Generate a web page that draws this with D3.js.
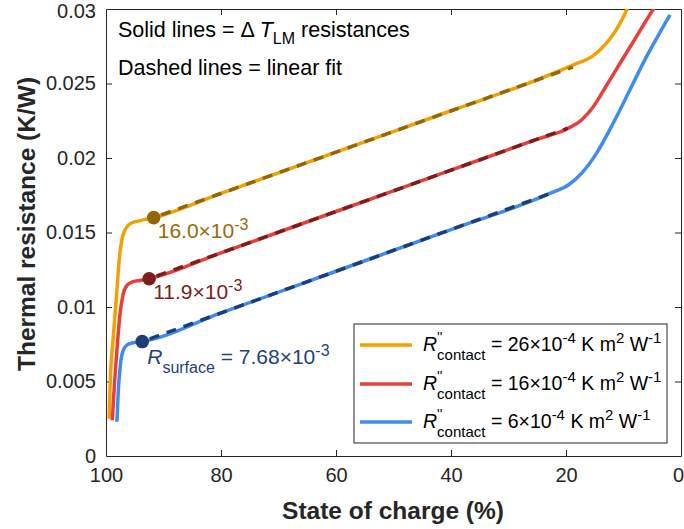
<!DOCTYPE html>
<html>
<head>
<meta charset="utf-8">
<script src="https://cdn.jsdelivr.net/npm/d3@7"></script>
<style>
  html, body { margin: 0; padding: 0; background: #fff; }
  svg { display: block; }
  text { font-family: "Liberation Sans", Arial, Helvetica, sans-serif; }
</style>
</head>
<body>
<svg id="chart" width="684" height="529"></svg>
<script>
// Thermal resistance vs state of charge for three contact resistances
// Each curve: [state of charge (%), resistance (K/W)]
const curveHigh = [
  [99.45, 0.0025], [99.3, 0.0046], [98.75, 0.0079], [98.2, 0.0106], [97.7, 0.0132],
  [97.2, 0.0146], [96.5, 0.0153], [95.5, 0.01565], [94.0, 0.0158], [91.7, 0.0160],
  [80, 0.01762], [60, 0.02039], [40, 0.02317], [25, 0.02525], [18.1, 0.02635],
  [15.5, 0.0268], [14.1, 0.02725], [12.35, 0.0280], [10.6, 0.02904], [9.16, 0.03016], [8.5, 0.0307]
];
const curveMid = [
  [98.9, 0.0024], [98.6, 0.0044], [98.1, 0.0071], [97.6, 0.0094], [97.05, 0.0108],
  [96.35, 0.01145], [95.3, 0.0117], [94.1, 0.01178], [92.5, 0.0119],
  [80, 0.01363], [60, 0.01641], [40, 0.01918], [25, 0.02126], [19.6, 0.0220],
  [17.3, 0.02255], [15.25, 0.02344], [12.9, 0.0249], [10.6, 0.02636], [8.3, 0.0278],
  [6.0, 0.02926], [4.8, 0.0300], [4.3, 0.0303]
];
const curveLow = [
  [98.1, 0.0023], [97.86, 0.0044], [97.5, 0.0061], [97.0, 0.0071], [96.35, 0.00745],
  [95.3, 0.0076], [93.7, 0.00768], [80, 0.0096], [60, 0.0124], [40, 0.0152],
  [22.5, 0.01767], [19.6, 0.01819], [17.3, 0.01897], [14.7, 0.02031], [11.8, 0.02233],
  [8.9, 0.02456], [6.0, 0.0268], [3.7, 0.0284], [1.9, 0.0296]
];

// Linear fits: start and end of the fitted region
const fitHigh = [[91.7, 0.0160], [18.8, 0.0261]];
const fitMid = [[92.5, 0.0119], [19.7, 0.0220]];
const fitLow = [[93.7, 0.00768], [22.5, 0.01765]];

// Marked surface resistance points
const markers = [
  { soc: 91.7, r: 0.0160, mant: "16.0", exp: "-3" },
  { soc: 92.5, r: 0.0119, mant: "11.9", exp: "-3" },
  { soc: 93.7, r: 0.00768, mant: "7.68", exp: "-3" }
];

const legendLabels = ["26", "16", "6"];
const xTicks = [100, 80, 60, 40, 20, 0];
const yTicks = [0, 0.005, 0.01, 0.015, 0.02, 0.025, 0.03];
const yTickLabels = ["0", "0.005", "0.01", "0.015", "0.02", "0.025", "0.03"];

const lineColors = ["#F2A100", "#E5413A", "#3F8CEF"];
const darkColors = ["#94660A", "#7A1F1F", "#1C3D75"];
const labelColors = ["#9A6A08", "#7A2222", "#1F3F80"];

const svg = d3.select("#chart");
const plotLeft = 106, plotRight = 681, plotTop = 9, plotBottom = 456;
const axisColor = "#262626";

const x = d3.scaleLinear().domain([100, 0]).range([plotLeft, plotRight]);
const y = d3.scaleLinear().domain([0, 0.03]).range([plotBottom, plotTop]);

svg.append("defs").append("clipPath").attr("id", "plotclip")
  .append("rect").attr("x", plotLeft).attr("y", plotTop)
  .attr("width", plotRight - plotLeft).attr("height", plotBottom - plotTop);

// Axes with inward ticks on all four sides
const tickLen = 6;
const gx = svg.append("g").attr("transform", `translate(0,${plotBottom})`)
  .call(d3.axisBottom(x).tickValues(xTicks).tickSizeInner(-tickLen).tickSizeOuter(0).tickPadding(12).tickFormat(d3.format("d")));
const gxTop = svg.append("g").attr("transform", `translate(0,${plotTop})`)
  .call(d3.axisTop(x).tickValues(xTicks).tickSizeInner(-tickLen).tickSizeOuter(0).tickFormat(""));
const gy = svg.append("g").attr("transform", `translate(${plotLeft},0)`)
  .call(d3.axisLeft(y).tickValues(yTicks).tickSizeInner(-tickLen).tickSizeOuter(0).tickPadding(10)
    .tickFormat((d, i) => yTickLabels[i]));
const gyRight = svg.append("g").attr("transform", `translate(${plotRight},0)`)
  .call(d3.axisRight(y).tickValues(yTicks).tickSizeInner(-tickLen).tickSizeOuter(0).tickFormat(""));

[gx, gxTop, gy, gyRight].forEach(g => {
  g.select(".domain").attr("stroke", axisColor).attr("stroke-width", 1);
  g.selectAll(".tick line").attr("stroke", axisColor).attr("stroke-width", 1);
  g.selectAll(".tick text").attr("fill", "#262626").attr("font-size", 20)
    .attr("font-family", '"Liberation Sans", Arial, sans-serif');
});
// keep the last x label inside the page
gx.selectAll(".tick text").filter(d => d === 0).attr("dx", -3);
gy.selectAll(".tick text").filter(d => d === 0.03).attr("dy", "0.42em");
// no tick marks on the box corners
gx.selectAll(".tick line").filter(d => d === 100 || d === 0).remove();
gxTop.selectAll(".tick line").filter(d => d === 100 || d === 0).remove();
gy.selectAll(".tick line").filter(d => d === 0 || d === 0.03).remove();
gyRight.selectAll(".tick line").filter(d => d === 0 || d === 0.03).remove();

// Axis titles
svg.append("text").attr("x", 393).attr("y", 519).attr("text-anchor", "middle")
  .attr("font-size", 24.5).attr("font-weight", "bold").attr("fill", "#262626").text("State of charge (%)");
svg.append("text").attr("transform", "translate(35,224) rotate(-90)").attr("text-anchor", "middle")
  .attr("font-size", 24.5).attr("font-weight", "bold").attr("fill", "#262626").text("Thermal resistance (K/W)");

// Curves
const line = d3.line().x(d => x(d[0])).y(d => y(d[1])).curve(d3.curveMonotoneX);
const plot = svg.append("g").attr("clip-path", "url(#plotclip)");
const curves = [curveHigh, curveMid, curveLow];
const fits = [fitHigh, fitMid, fitLow];

curves.forEach((c, i) => {
  plot.append("path").datum(c).attr("d", line).attr("fill", "none")
    .attr("stroke", lineColors[i]).attr("stroke-width", 3.5).attr("stroke-linejoin", "round");
});
fits.forEach((f, i) => {
  plot.append("path").datum(f).attr("d", d3.line().x(d => x(d[0])).y(d => y(d[1])))
    .attr("fill", "none").attr("stroke", darkColors[i]).attr("stroke-width", 3.5)
    .attr("stroke-dasharray", "10,8").attr("stroke-dashoffset", -8);
});

// Rich text helper: lays out segments left to right
function rich(g, x0, y0, segs, color, baseSize) {
  let cx = x0;
  segs.forEach(s => {
    const size = s.size || baseSize;
    const t = g.append("text").attr("x", cx).attr("y", y0 + (s.dy || 0))
      .attr("font-size", size).attr("fill", color)
      .attr("font-style", s.italic ? "italic" : "normal")
      .style("white-space", "pre").text(s.t);
    if (!s.stack) cx += t.node().getComputedTextLength();
  });
  return cx;
}

// Marker points and labels
markers.forEach((m, i) => {
  const px = x(m.soc), py = y(m.r);
  svg.append("circle").attr("cx", px).attr("cy", py).attr("r", 6.8).attr("fill", darkColors[i]);
  const g = svg.append("g");
  if (i < 2) {
    rich(g, px + 4, py + 20, [
      { t: m.mant + "×10" },
      { t: m.exp, size: 16, dy: -8 }
    ], labelColors[i], 21);
  } else {
    rich(g, px + 5, py + 22, [
      { t: "R", italic: true },
      { t: "surface", size: 16, dy: 9 },
      { t: " = " + m.mant + "×10" },
      { t: m.exp, size: 16, dy: -8 }
    ], labelColors[i], 21);
  }
});

// Annotation text
const note = svg.append("g");
rich(note, 118, 37, [
  { t: "Solid lines = " },
  { t: "Δ " },
  { t: "T", italic: true },
  { t: "LM", size: 16, dy: 7 },
  { t: " resistances" }
], "#000", 21.5);
rich(note, 118, 75, [{ t: "Dashed lines = linear fit" }], "#000", 21.5);

// Legend
const lg = svg.append("g");
lg.append("rect").attr("x", 354).attr("y", 324).attr("width", 313).attr("height", 119)
  .attr("fill", "#fff").attr("stroke", axisColor).attr("stroke-width", 1);
const legendY = [345, 384, 422];
legendLabels.forEach((lab, i) => {
  const ly = legendY[i];
  lg.append("line").attr("x1", 360).attr("x2", 412).attr("y1", ly).attr("y2", ly)
    .attr("stroke", lineColors[i]).attr("stroke-width", 3.5);
  rich(lg, 423, ly + 6, [
    { t: "R", italic: true },
    { t: "''", size: 14, dy: -9, stack: true },
    { t: "contact", size: 15, dy: 9 },
    { t: " = " + lab + "×10" },
    { t: "-4", size: 15, dy: -8 },
    { t: " K m" },
    { t: "2", size: 15, dy: -8 },
    { t: " W" },
    { t: "-1", size: 15, dy: -8 }
  ], "#000", 19.5);
});
</script>
</body>
</html>
